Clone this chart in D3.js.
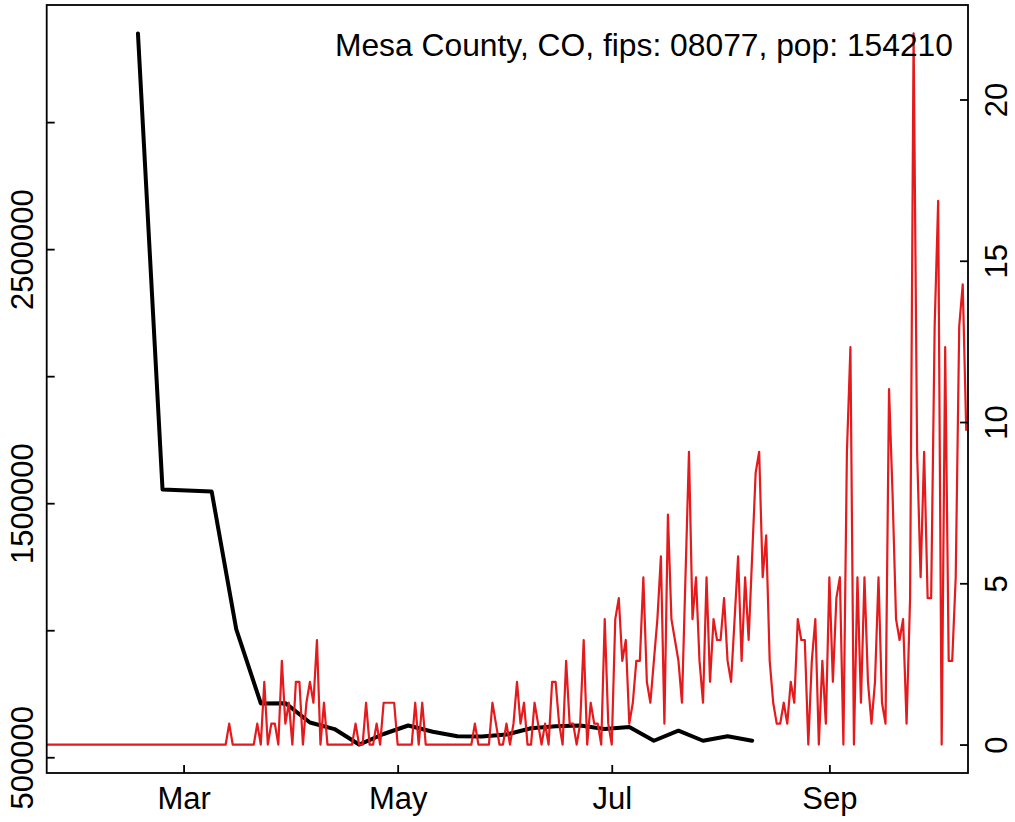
<!DOCTYPE html>
<html>
<head>
<meta charset="utf-8">
<script src="https://cdn.jsdelivr.net/npm/d3@7"></script>
<style>
  html, body { margin: 0; padding: 0; background: #ffffff; }
  svg { display: block; }
  text { font-family: "Liberation Sans", Arial, Helvetica, sans-serif; fill: #000; }
</style>
</head>
<body>
<svg id="chart" width="1015" height="822"></svg>
<script>
// ---------------- data ----------------
const titleText = "Mesa County, CO, fips: 08077, pop: 154210";
const population = 154210;

// weekly series (left axis)
const weeklyDates = [
  "2020-02-17","2020-02-24","2020-03-02","2020-03-09","2020-03-16","2020-03-23","2020-03-30",
  "2020-04-06","2020-04-13","2020-04-20","2020-04-27","2020-05-04","2020-05-11","2020-05-18",
  "2020-05-25","2020-06-01","2020-06-08","2020-06-15","2020-06-22","2020-06-29","2020-07-06",
  "2020-07-13","2020-07-20","2020-07-27","2020-08-03","2020-08-10"
];
const weeklyValues = [
  3349000, 1554000, 1550000, 1546000, 1004000, 712000, 713000,
  637000, 611000, 550000, 591500, 625000, 600500, 582500,
  582000, 589500, 614000, 622000, 625000, 611000, 619000,
  565000, 604500, 565000, 582500, 565000
];

// daily new cases (right axis, shown per 100k population), starting 2020-01-22
const dailyStart = "2020-01-22";
const dailyCases = [
  0,0,0,0,0,0,0,0,0,0,
  0,0,0,0,0,0,0,0,0,0,
  0,0,0,0,0,0,0,0,0,0,
  0,0,0,0,0,0,0,0,0,0,
  0,0,0,0,0,0,0,0,0,0,
  0,0,1,0,0,0,0,0,0,0,
  1,0,3,0,1,1,0,4,1,2,
  0,3,3,0,2,3,2,5,0,2,
  0,0,0,0,0,0,0,0,1,0,
  0,2,0,0,1,0,2,2,2,2,
  0,0,0,0,0,2,0,2,0,0,
  0,0,0,0,0,0,0,0,0,0,
  0,0,1,0,0,0,0,2,1,0,
  0,1,0,1,3,1,2,0,0,2,
  1,0,1,0,3,3,1,0,4,1,
  1,0,1,5,0,2,1,1,0,6,
  1,0,6,7,4,5,1,2,4,4,
  8,3,2,4,6,9,1,11,6,5,
  4,2,8,14,6,8,4,2,8,3,
  6,5,5,7,4,3,6,9,4,8,
  5,9,13,14,8,10,4,2,1,1,
  2,1,3,2,6,5,5,0,4,6,
  0,4,1,8,3,7,8,0,14,19,
  0,8,2,8,3,1,3,8,2,1,
  17,12,6,5,6,1,7,34,14,8,
  14,7,7,20,26,0,19,4,4,8,
  20,22,15
];

// axis ticks
const leftTicks = [500000, 1000000, 1500000, 2000000, 2500000, 3000000];
const leftLabelled = [500000, 1500000, 2500000];
const rightTicks = [0, 5, 10, 15, 20];
const monthTickDates = ["2020-03-01","2020-05-01","2020-07-01","2020-09-01"];
const monthTickLabels = ["Mar","May","Jul","Sep"];
const xDomain = ["2020-01-22T00:00", "2020-10-10T12:00"];

// ---------------- drawing ----------------
const parse = d3.timeParse("%Y-%m-%d");
const parseT = d3.timeParse("%Y-%m-%dT%H:%M");
const svg = d3.select("#chart");
svg.append("rect").attr("width", 1015).attr("height", 822).attr("fill", "#fff");

const L = 46.7, R = 968, T = 5, B = 773;
const fontSize = 31;

const x = d3.scaleTime().domain(xDomain.map(parseT)).range([L, R]);

const weekly = weeklyDates.map((d, i) => ({ date: parse(d), v: weeklyValues[i] }));
const start = parse(dailyStart);
const daily = dailyCases.map((c, i) => ({ date: d3.timeDay.offset(start, i), v: c / population * 100000 }));

function padded(ext) { const p = (ext[1] - ext[0]) * 0.04; return [ext[0] - p, ext[1] + p]; }
const yL = d3.scaleLinear().domain(padded(d3.extent(weekly, d => d.v))).range([B, T]);
const yR = d3.scaleLinear().domain(padded(d3.extent(daily, d => d.v))).range([B, T]);

// weekly (black)
svg.append("path")
  .datum(weekly)
  .attr("fill", "none")
  .attr("stroke", "#000")
  .attr("stroke-width", 4)
  .attr("stroke-linejoin", "round")
  .attr("stroke-linecap", "round")
  .attr("d", d3.line().x(d => x(d.date)).y(d => yL(d.v)));

// daily (red)
svg.append("path")
  .datum(daily)
  .attr("fill", "none")
  .attr("stroke", "#E41A1C")
  .attr("stroke-width", 2.2)
  .attr("stroke-linejoin", "round")
  .attr("d", d3.line().x(d => x(d.date)).y(d => yR(d.v)));

// axes
const tickLen = 8;
const axStroke = 1.8;

const gB = svg.append("g").attr("transform", `translate(0,${B})`)
  .call(d3.axisBottom(x).tickValues(monthTickDates.map(parse)).tickSize(-tickLen).tickSizeOuter(0)
    .tickFormat((d, i) => monthTickLabels[i]));
gB.selectAll("text").attr("y", 36).attr("dy", null).style("font-size", fontSize + "px");

const gL = svg.append("g").attr("transform", `translate(${L},0)`)
  .call(d3.axisLeft(yL).tickValues(leftTicks).tickSize(-tickLen).tickSizeOuter(0)
    .tickFormat(d => leftLabelled.includes(d) ? String(d) : ""));
gL.selectAll("text").attr("x", null).attr("dy", null).attr("text-anchor", "middle")
  .attr("transform", "translate(-14,0) rotate(-90)").style("font-size", fontSize + "px");

const gR = svg.append("g").attr("transform", `translate(${R},0)`)
  .call(d3.axisRight(yR).tickValues(rightTicks).tickSize(-tickLen).tickSizeOuter(0)
    .tickFormat(d => String(d)));
gR.selectAll("text").attr("x", null).attr("dy", null).attr("text-anchor", "middle")
  .attr("transform", "translate(39,0) rotate(-90)").style("font-size", fontSize + "px");

[gB, gL, gR].forEach(g => {
  g.select(".domain").remove();
  g.selectAll("line").attr("stroke", "#000").attr("stroke-width", axStroke);
  g.attr("font-family", null).attr("font-size", null);
});

// box
svg.append("rect")
  .attr("x", L).attr("y", T).attr("width", R - L).attr("height", B - T)
  .attr("fill", "none").attr("stroke", "#000").attr("stroke-width", axStroke);

// title
svg.append("text")
  .attr("x", 953).attr("y", 56)
  .attr("text-anchor", "end")
  .style("font-size", "31.8px")
  .text(titleText);
</script>
</body>
</html>
